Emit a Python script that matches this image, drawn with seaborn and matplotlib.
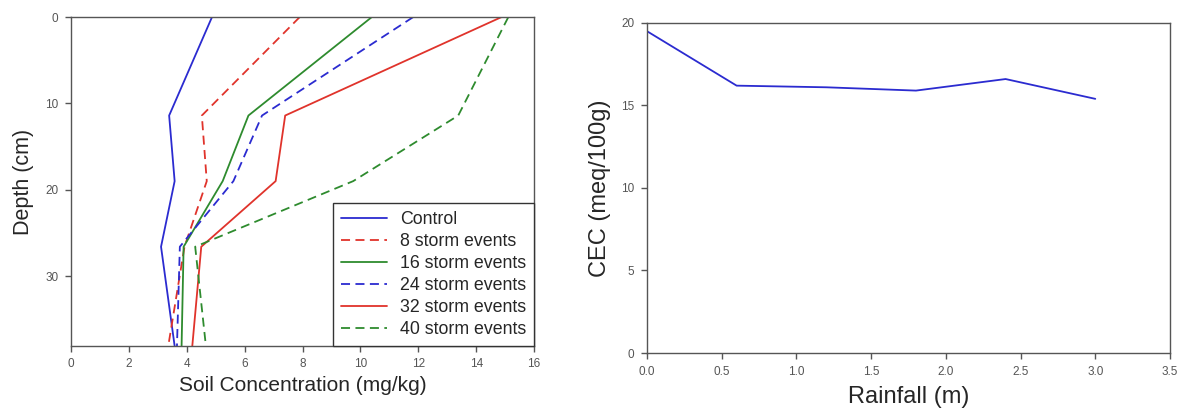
import matplotlib
matplotlib.use("Agg")
from matplotlib import pyplot as plt
import numpy as np
import pandas as pd
import seaborn as sns

# Soil profile data (depth in cm, concentration in mg/kg)
depth = [0, 11.4, 19.0, 26.6, 38.1]
series_names = ["Control", "8 storm events", "16 storm events",
                "24 storm events", "32 storm events", "40 storm events"]
control = [4.87, 3.39, 3.58, 3.11, 3.58]
storm_8 = [7.90, 4.52, 4.69, 3.92, 3.36]
storm_16 = [10.39, 6.13, 5.24, 3.89, 3.82]
storm_24 = [11.82, 6.60, 5.61, 3.76, 3.66]
storm_32 = [14.87, 7.40, 7.07, 4.50, 4.19]
storm_40 = [15.11, 13.38, 9.75, 4.29, 4.66]

# CEC vs rainfall
rainfall = [0.0, 0.6, 1.2, 1.8, 2.4, 3.0]
cec = [19.5, 16.2, 16.1, 15.9, 16.6, 15.4]

blue = "#2b2bd0"
red = "#e0332b"
green = "#2e8b2e"
colors = [blue, red, green, blue, red, green]
styles = ["-", "--", "-", "--", "-", "--"]

sns.set_style("white")
plt.rcParams['font.family'] = ['Liberation Sans', 'DejaVu Sans']

fig = plt.figure(figsize=(11.86, 4.08), dpi=100)
ax1 = fig.add_axes([0.0599, 0.152, 0.3904, 0.806])
ax2 = fig.add_axes([0.5455, 0.1348, 0.441, 0.809])

all_series = [control, storm_8, storm_16, storm_24, storm_32, storm_40]
for name, vals, c, ls in zip(series_names, all_series, colors, styles):
    df = pd.DataFrame({"conc": vals, "depth": depth})
    sns.lineplot(data=df, x="conc", y="depth", sort=False,
                 estimator=None, orient="y", ax=ax1,
                 color=c, linewidth=1.3, label=name)
    if ls == "--":
        ax1.lines[-1].set_dashes((5, 3))

ax1.set_xlim(0, 16)
ax1.set_ylim(38.1, 0)
ax1.set_xticks(np.arange(0, 17, 2))
ax1.set_yticks([0, 10, 20, 30])
ax1.set_xlabel("Soil Concentration (mg/kg)", fontsize=15)
ax1.set_ylabel("Depth (cm)", fontsize=15.5, labelpad=8)
leg = ax1.legend(loc="lower right", borderaxespad=0, fancybox=False,
                 framealpha=1, edgecolor="#333333", fontsize=12.8,
                 handlelength=2.6, labelspacing=0.28, handletextpad=0.7,
                 borderpad=0.45)
leg.get_frame().set_linewidth(1.0)

df2 = pd.DataFrame({"rain": rainfall, "cec": cec})
sns.lineplot(data=df2, x="rain", y="cec", ax=ax2, color=blue, linewidth=1.3)
ax2.set_xlim(0, 3.5)
ax2.set_ylim(0, 20)
ax2.set_xticks(np.arange(0, 3.6, 0.5))
ax2.set_xticklabels([f"{v:.1f}" for v in np.arange(0, 3.6, 0.5)])
ax2.set_yticks([0, 5, 10, 15, 20])
ax2.set_xlabel("Rainfall (m)", fontsize=17, labelpad=6)
ax2.set_ylabel("CEC (meq/100g)", fontsize=17, labelpad=7)

for ax in (ax1, ax2):
    for s in ax.spines.values():
        s.set_color("#555555")
        s.set_linewidth(1.0)
    ax.tick_params(axis="both", direction="out", length=4, width=1, pad=5,
                   color="#555555", labelsize=8.5, labelcolor="#555555",
                   left=True, bottom=True)

fig.savefig("out.png", dpi=100)
